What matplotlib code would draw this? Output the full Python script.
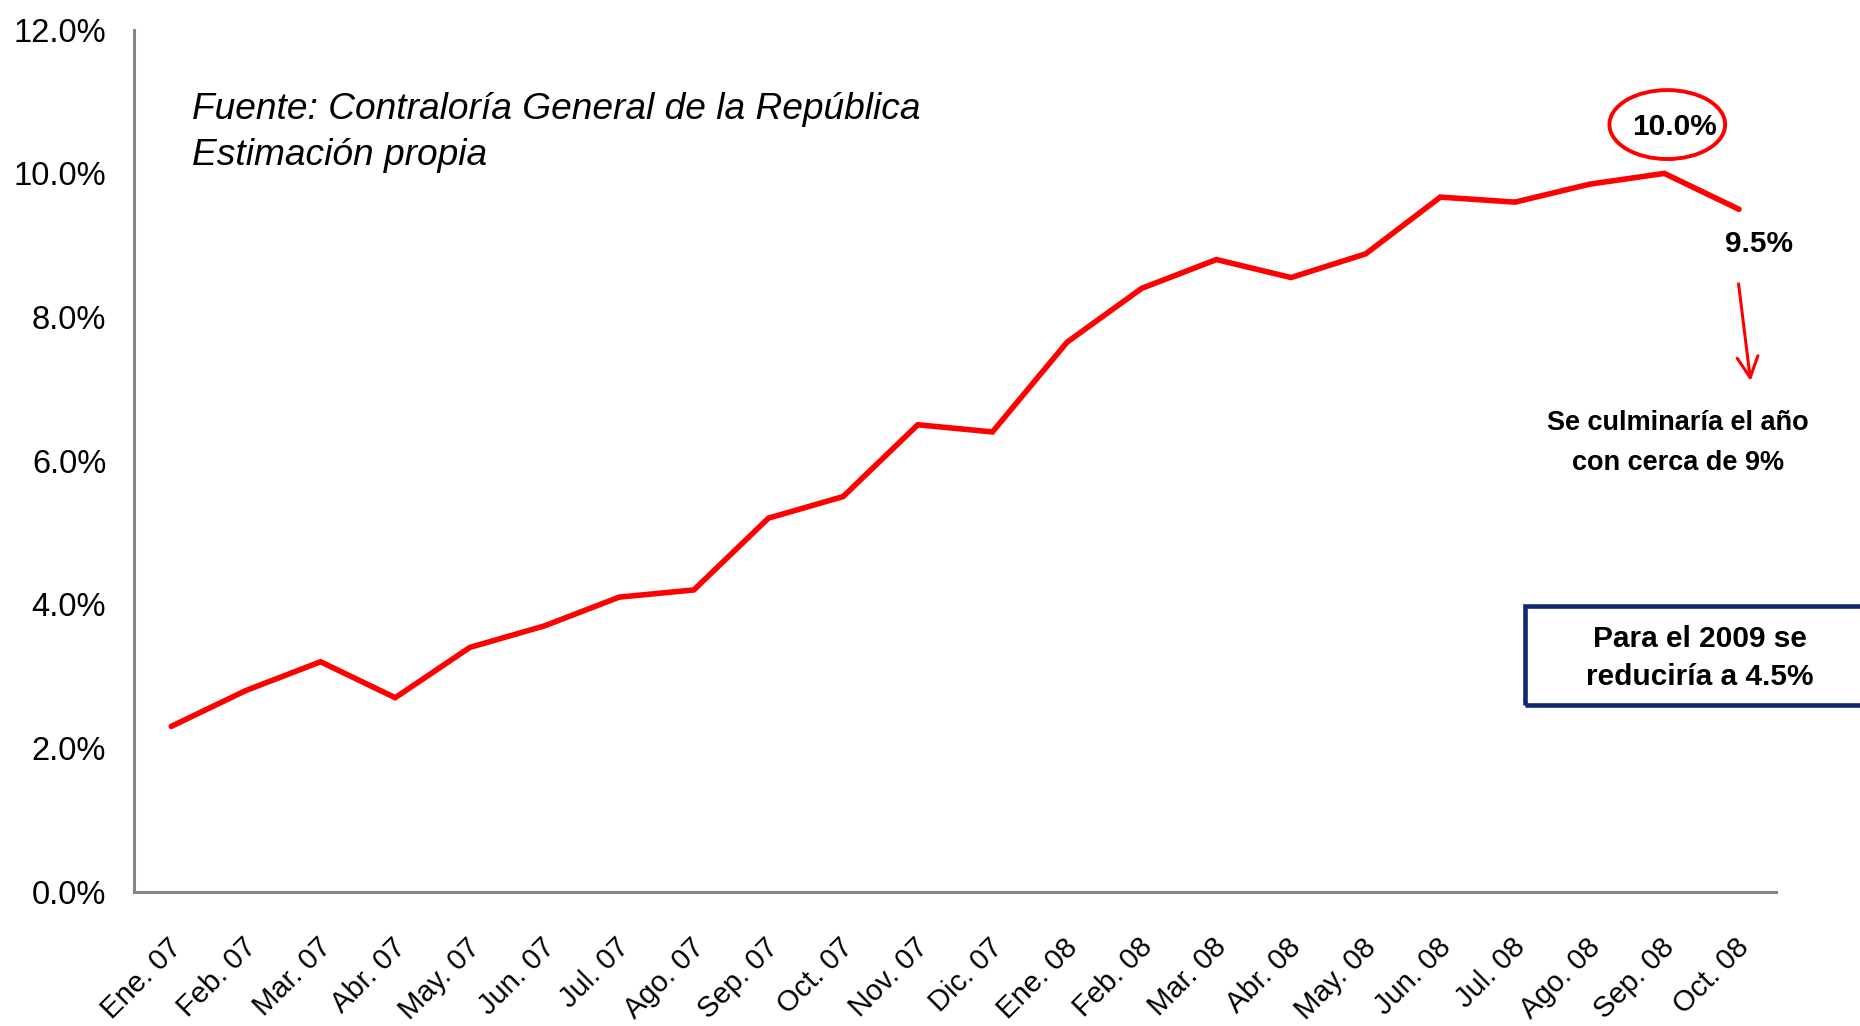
import matplotlib
matplotlib.use('Agg')
import matplotlib.pyplot as plt
from matplotlib.patches import Ellipse, Rectangle
from matplotlib.ticker import FuncFormatter
from matplotlib.transforms import ScaledTranslation

plt.rcParams['font.family'] = ['Liberation Sans', 'DejaVu Sans']

# Tasa de inflación mensual (%)
meses = ['Ene. 07', 'Feb. 07', 'Mar. 07', 'Abr. 07', 'May. 07', 'Jun. 07',
         'Jul. 07', 'Ago. 07', 'Sep. 07', 'Oct. 07', 'Nov. 07', 'Dic. 07',
         'Ene. 08', 'Feb. 08', 'Mar. 08', 'Abr. 08', 'May. 08', 'Jun. 08',
         'Jul. 08', 'Ago. 08', 'Sep. 08', 'Oct. 08']
inflacion = [2.3, 2.8, 3.2, 2.7, 3.4, 3.7, 4.1, 4.2, 5.2, 5.5, 6.5, 6.4,
             7.65, 8.4, 8.8, 8.55, 8.88, 9.67, 9.6, 9.85, 10.0, 9.5]
idx_max = 20
idx_fin = 21

fig = plt.figure(figsize=(18.6, 10.26), dpi=100)
ax = fig.add_axes([0.072, 0.131, 0.883, 0.840])

x = list(range(len(meses)))
ax.plot(x, inflacion, color='#FF0000', lw=4, solid_capstyle='round', solid_joinstyle='miter')

ax.set_xlim(-0.5, len(meses) - 0.5)
ax.set_ylim(0, 12)
ax.set_yticks([0, 2, 4, 6, 8, 10, 12])
ax.yaxis.set_major_formatter(FuncFormatter(lambda v, p: f'{v:.1f}%'))
ax.set_xticks(x)
ax.set_xticklabels(meses, rotation=45, ha='right', va='center', rotation_mode='anchor')
ax.tick_params(axis='x', length=0, pad=37, labelsize=21)
ax.tick_params(axis='y', length=0, pad=20, labelsize=23.5)
# desplaza un poco las etiquetas del eje x a la derecha
for lab in ax.get_xticklabels():
    lab.set_transform(lab.get_transform() + ScaledTranslation(0.06, 0, fig.dpi_scale_trans))

for s in ['top', 'right']:
    ax.spines[s].set_visible(False)
for s in ['left', 'bottom']:
    ax.spines[s].set_color('#868686')
    ax.spines[s].set_linewidth(2.2)

# etiquetas de valores
ax.text(idx_max + 0.14, inflacion[idx_max] + 0.64, f'{inflacion[idx_max]:.1f}%',
        ha='center', va='center', fontsize=21.5, fontweight='bold')
ax.add_patch(Ellipse((idx_max + 0.04, inflacion[idx_max] + 0.68), 1.55, 0.96,
                     fill=False, edgecolor='#FF0000', lw=2.8))
ax.text(idx_fin + 0.27, inflacion[idx_fin] - 0.48, f'{inflacion[idx_fin]:.1f}%',
        ha='center', va='center', fontsize=21.5, fontweight='bold')
ax.annotate('', xy=(idx_fin + 0.16, 7.07), xytext=(idx_fin - 0.01, 8.5),
            arrowprops=dict(arrowstyle='->,head_length=0.5,head_width=0.25',
                            color='#FF0000', lw=2.2, mutation_scale=30))

fig.text(0.103, 0.910, 'Fuente: Contraloría General de la República\nEstimación propia',
         ha='left', va='top', fontsize=26.7, style='italic', linespacing=1.38)

fig.text(0.902, 0.568, 'Se culminaría el año\ncon cerca de 9%',
         ha='center', va='center', fontsize=19.5, fontweight='bold', linespacing=1.72)

fig.patches.append(Rectangle((0.820, 0.313), 0.25, 0.0965, transform=fig.transFigure,
                             fill=False, edgecolor='#0E2A6B', lw=3.3, clip_on=False))
fig.text(0.914, 0.359, 'Para el 2009 se\nreduciría a 4.5%',
         ha='center', va='center', fontsize=21.5, fontweight='bold', linespacing=1.45)

fig.savefig('out.png', dpi=100)
